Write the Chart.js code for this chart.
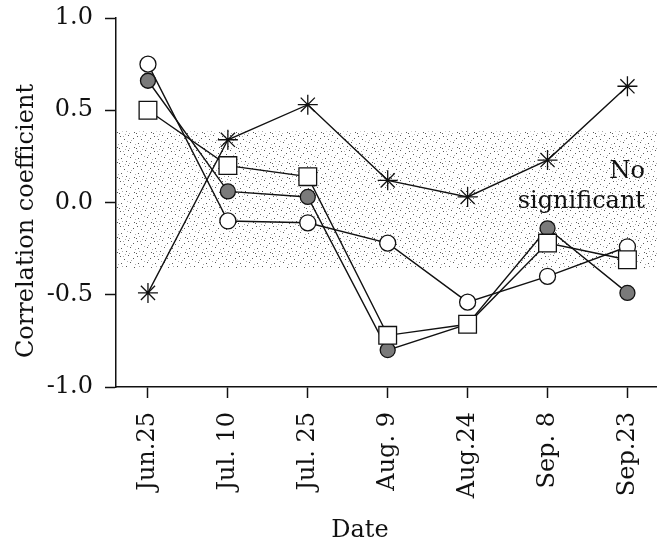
<!DOCTYPE html>
<html>
<head>
<meta charset="utf-8">
<title>Correlation coefficient by date</title>
<script src="https://cdn.jsdelivr.net/npm/chart.js@4.4.1/dist/chart.umd.min.js"></script>
<style>
  html, body { margin: 0; padding: 0; background: #fff; overflow: hidden; }
  #wrap { position: relative; width: 657px; height: 543px; }
  #corr { display: block; }
</style>
</head>
<body>
<div id="wrap"><canvas id="corr"></canvas></div>
<script>
/* ---------- DATA ---------- */
const dates = ['Jun.25', 'Jul. 10', 'Jul. 25', 'Aug. 9', 'Aug.24', 'Sep. 8', 'Sep.23'];
const yTicks = [-1.0, -0.5, 0.0, 0.5, 1.0];

// one series per marker type
const openCircle = [0.75, -0.10, -0.11, -0.22, -0.54, -0.40, -0.24];
const grayCircle = [0.66, 0.06, 0.03, -0.80, -0.66, -0.14, -0.49];
const openSquare = [0.50, 0.20, 0.14, -0.72, -0.66, -0.22, -0.31];
const asterisk   = [-0.49, 0.34, 0.53, 0.12, 0.03, 0.23, 0.63];

// range of r that is not significant
const bandLow = -0.355;
const bandHigh = 0.385;

/* ---------- HELPERS ---------- */
const FONT = '"DejaVu Serif", "Liberation Serif", serif';
const INK = '#111';

function toPoints(values) {
  return values.map((v, i) => ({ x: i, y: v }));
}

// sparse stipple for the band: dark and light dots on white
function makeStipple() {
  const tile = document.createElement('canvas');
  tile.width = 17;
  tile.height = 15;
  const t = tile.getContext('2d');
  const dark = [[1, 1], [9, 0], [5, 4], [14, 3], [2, 8], [11, 7], [7, 11], [15, 12], [0, 13]];
  const light = [[4, 1], [12, 5], [8, 6], [16, 9], [3, 11], [10, 13], [6, 14]];
  t.fillStyle = 'rgba(60,60,60,0.85)';
  dark.forEach(([x, y]) => t.fillRect(x, y, 1, 1));
  t.fillStyle = 'rgba(140,140,140,0.7)';
  light.forEach(([x, y]) => t.fillRect(x, y, 1, 1));
  return t.createPattern(tile, 'repeat');
}

function lineSet(values) {
  return {
    data: toPoints(values),
    borderColor: INK,
    borderWidth: 1.4,
    pointRadius: 0,
    fill: false,
    tension: 0,
    order: 10
  };
}

function markerSet(values, style, radius, fillColor, order) {
  return {
    data: toPoints(values),
    showLine: false,
    pointStyle: style,
    pointRadius: radius,
    pointBackgroundColor: fillColor,
    pointBorderColor: INK,
    pointBorderWidth: 1.3,
    order: order
  };
}

/* ---------- PLUGINS ---------- */
const bandPlugin = {
  id: 'bandPlugin',
  beforeDatasetsDraw(chart) {
    const { ctx, chartArea, scales } = chart;
    const top = scales.y.getPixelForValue(bandHigh);
    const bottom = scales.y.getPixelForValue(bandLow);
    ctx.save();
    ctx.fillStyle = makeStipple();
    ctx.fillRect(chartArea.left + 1, top, chartArea.right - chartArea.left - 1, bottom - top);
    ctx.restore();
  }
};

const textPlugin = {
  id: 'textPlugin',
  afterDraw(chart) {
    const { ctx, chartArea } = chart;
    ctx.save();
    ctx.fillStyle = INK;
    ctx.font = '24px ' + FONT;

    // band note
    ctx.textAlign = 'right';
    ctx.textBaseline = 'alphabetic';
    ctx.fillText('No', chartArea.right - 12, 178);
    ctx.fillText('significant', chartArea.right - 12, 208);

    // x title
    ctx.textAlign = 'center';
    ctx.fillText('Date', 360, 537);

    // y title
    ctx.translate(33, 221);
    ctx.rotate(-Math.PI / 2);
    ctx.fillText('Correlation coefficient', 0, 0);
    ctx.restore();
  }
};

/* ---------- CHART ---------- */
const ctx = document.getElementById('corr').getContext('2d');

new Chart(ctx, {
  type: 'line',
  data: {
    datasets: [
      lineSet(openCircle),
      lineSet(grayCircle),
      lineSet(openSquare),
      lineSet(asterisk),
      markerSet(openSquare, 'rect', 12.5, '#fff', 0),
      markerSet(grayCircle, 'circle', 7.5, '#7a7a7a', 1),
      markerSet(openCircle, 'circle', 8, '#fff', 2),
      markerSet(asterisk, 'star', 10, INK, 3)
    ]
  },
  options: {
    responsive: true,
    maintainAspectRatio: false,
    animation: false,
    events: [],
    layout: {
      autoPadding: false,
      padding: { top: 18, right: 0, bottom: 0, left: 0 }
    },
    plugins: {
      legend: { display: false },
      tooltip: { enabled: false }
    },
    scales: {
      x: {
        type: 'linear',
        min: -0.4,
        max: 6.37,
        afterBuildTicks(scale) {
          scale.ticks = dates.map((_, i) => ({ value: i }));
        },
        afterFit(scale) {
          scale.height = 156;
          scale.paddingLeft = 0;
          scale.paddingRight = 0;
        },
        ticks: {
          autoSkip: false,
          minRotation: 90,
          maxRotation: 90,
          padding: 14,
          color: INK,
          font: { family: FONT, size: 24 },
          callback: (v) => dates[v]
        },
        grid: {
          drawOnChartArea: false,
          drawTicks: true,
          tickLength: 11,
          tickColor: INK,
          tickWidth: 1.5
        },
        border: { display: true, color: INK, width: 1.5 }
      },
      y: {
        min: -1,
        max: 1,
        afterBuildTicks(scale) {
          scale.ticks = yTicks.map((v) => ({ value: v }));
        },
        afterFit(scale) {
          scale.width = 116;
          scale.paddingTop = 0;
          scale.paddingBottom = 0;
        },
        ticks: {
          padding: 12,
          color: INK,
          font: { family: FONT, size: 24 },
          callback: (v) => Number(v).toFixed(1)
        },
        grid: {
          drawOnChartArea: false,
          drawTicks: true,
          tickLength: 11,
          tickColor: INK,
          tickWidth: 1.5
        },
        border: { display: true, color: INK, width: 1.5 }
      }
    }
  },
  plugins: [bandPlugin, textPlugin]
});
</script>
</body>
</html>
